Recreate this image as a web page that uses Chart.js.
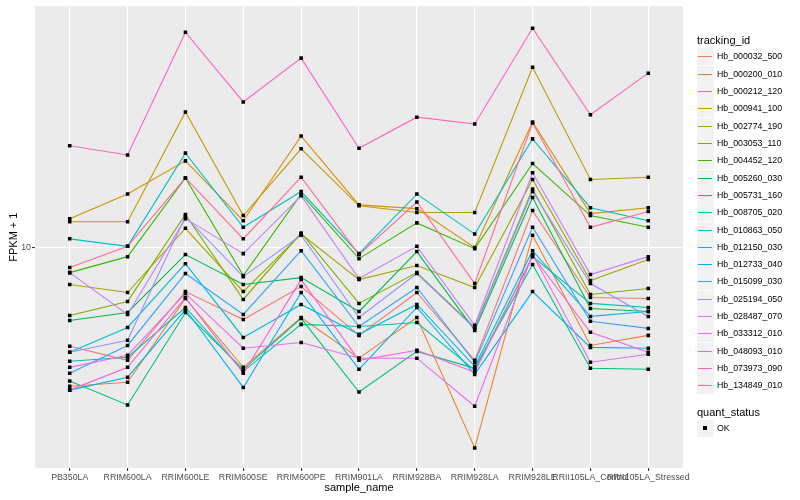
<!DOCTYPE html>
<html>
<head>
<meta charset="utf-8">
<script src="https://cdn.jsdelivr.net/npm/chart.js@4.4.1/dist/chart.umd.min.js"></script>
<style>
  body { margin: 0; background: #fff; font-family: "Liberation Sans", Arial, sans-serif; }
  #wrap { position: relative; width: 800px; height: 500px; }
  #legend { position: absolute; left: 697px; top: 0; width: 103px; height: 500px; }
  .ttl { position: absolute; left: 0; font-size: 11px; color: #000; line-height: 13px; white-space: nowrap; }
  .key { position: absolute; left: 0; width: 17px; height: 17px; background: #F2F2F2; }
  .key i { position: absolute; left: 1px; right: 2px; top: 8px; height: 1px; }
  .key b { position: absolute; left: 6px; top: 6px; width: 4px; height: 4px; background: #000; }
  .lab { position: absolute; left: 20px; font-size: 8.8px; color: #000; line-height: 10px; white-space: nowrap; }
</style>
</head>
<body>
<div id="wrap">
  <canvas id="chart" width="800" height="500"></canvas>
  <div id="legend"></div>
</div>
<script>
const sampleNames = ['PB350LA', 'RRIM600LA', 'RRIM600LE', 'RRIM600SE', 'RRIM600PE', 'RRIM901LA',
  'RRIM928BA', 'RRIM928LA', 'RRIM928LE', 'RRII105LA_Control', 'RRII105LA_Stressed'];

const trackingIds = ['Hb_000032_500', 'Hb_000200_010', 'Hb_000212_120', 'Hb_000941_100', 'Hb_002774_190',
  'Hb_003053_110', 'Hb_004452_120', 'Hb_005260_030', 'Hb_005731_160', 'Hb_008705_020',
  'Hb_010863_050', 'Hb_012150_030', 'Hb_012733_040', 'Hb_015099_030', 'Hb_025194_050',
  'Hb_028487_070', 'Hb_033312_010', 'Hb_048093_010', 'Hb_073973_090', 'Hb_134849_010'];

const lineColors = ['#F8766D', '#EA8331', '#D89000', '#C09B00', '#A3A500', '#7CAE00', '#39B600', '#00BB4E',
  '#00BF7D', '#00C1A3', '#00BFC4', '#00BAE0', '#00B0F6', '#35A2FF', '#9590FF', '#C77CFF',
  '#E76BF3', '#FA62DB', '#FF62BC', '#FF6C91'];

// FPKM + 1, one array per tracking_id, in sampleNames order
const Hb_000032_500 = [4.68, 4.20, 7.13, 5.75, 7.41, 5.09, 7.08, 4.20, 13.3, 6.81, 6.76];
const Hb_000200_010 = [3.44, 3.55, 6.76, 3.98, 5.84, 4.27, 5.84, 2.14, 11.0, 4.71, 5.09];
const Hb_000212_120 = [12.5, 15.1, 19.5, 12.3, 23.6, 13.9, 13.5, 10.0, 26.3, 13.0, 13.6];
const Hb_000941_100 = [12.2, 12.2, 28.4, 12.8, 21.4, 13.8, 13.1, 13.1, 40.1, 16.9, 17.2];
const Hb_002774_190 = [7.53, 7.08, 11.6, 7.13, 11.1, 7.82, 8.71, 7.36, 16.9, 7.76, 9.12];
const Hb_003053_110 = [5.93, 6.61, 12.9, 6.71, 11.2, 6.51, 8.25, 5.41, 15.7, 6.97, 7.30];
const Hb_004452_120 = [8.25, 9.33, 17.1, 8.07, 15.1, 9.19, 12.1, 9.92, 19.1, 12.8, 11.7];
const Hb_005260_030 = [5.71, 6.07, 9.48, 7.53, 7.94, 6.12, 9.70, 5.29, 14.7, 6.26, 6.12];
const Hb_005731_160 = [3.58, 2.98, 6.07, 3.92, 5.80, 3.29, 4.50, 3.95, 8.78, 3.95, 3.92];
const Hb_008705_020 = [4.17, 4.30, 6.31, 3.86, 5.54, 5.45, 5.62, 3.89, 9.33, 6.51, 6.31];
const Hb_010863_050 = [10.7, 10.1, 20.7, 11.7, 15.4, 9.55, 15.1, 11.1, 23.1, 13.6, 12.3];
const Hb_012150_030 = [4.47, 5.41, 8.84, 5.01, 6.46, 5.13, 6.46, 4.01, 9.77, 5.89, 6.12];
const Hb_012733_040 = [3.34, 3.69, 6.21, 3.41, 7.08, 3.92, 6.31, 3.77, 7.13, 4.64, 4.61];
const Hb_015099_030 = [3.80, 4.71, 8.19, 5.98, 9.77, 5.45, 7.36, 4.14, 11.7, 5.67, 5.37];
const Hb_025194_050 = [4.47, 4.90, 12.7, 8.00, 11.0, 5.84, 8.19, 5.37, 15.4, 7.59, 5.89];
const Hb_028487_070 = [8.25, 5.98, 12.5, 9.55, 14.9, 7.88, 10.1, 5.50, 17.8, 8.13, 9.33];
const Hb_033312_010 = [3.98, 4.37, 7.03, 4.61, 4.82, 4.27, 4.27, 2.95, 9.48, 4.14, 4.40];
const Hb_048093_010 = [3.34, 3.98, 6.81, 3.80, 7.82, 4.20, 4.54, 3.83, 9.40, 5.21, 4.47];
const Hb_073973_090 = [21.9, 20.4, 52.5, 30.7, 43.0, 21.5, 27.3, 25.9, 54.1, 27.8, 38.3];
const Hb_134849_010 = [8.58, 10.1, 17.1, 10.7, 17.2, 9.48, 14.2, 7.59, 26.1, 11.7, 13.2];

const fpkmSeries = [Hb_000032_500, Hb_000200_010, Hb_000212_120, Hb_000941_100, Hb_002774_190,
  Hb_003053_110, Hb_004452_120, Hb_005260_030, Hb_005731_160, Hb_008705_020,
  Hb_010863_050, Hb_012150_030, Hb_012733_040, Hb_015099_030, Hb_025194_050,
  Hb_028487_070, Hb_033312_010, Hb_048093_010, Hb_073973_090, Hb_134849_010];

const yTicks = [10];

const FONT = '"Liberation Sans", Arial, sans-serif';

const lineSets = fpkmSeries.map((vals, k) => ({
  type: 'line',
  label: trackingIds[k],
  data: vals.map((v, i) => ({ x: i, y: v })),
  borderColor: lineColors[k],
  borderWidth: 1.1,
  pointRadius: 0,
  tension: 0,
  fill: false,
  order: fpkmSeries.length - k
}));

const pointSet = {
  type: 'scatter',
  label: 'OK',
  data: fpkmSeries.flatMap(vals => vals.map((v, i) => ({ x: i, y: v }))),
  pointStyle: 'rect',
  pointRadius: 2.5,
  pointBorderWidth: 0,
  backgroundColor: '#000',
  order: 0
};

const panelBg = {
  id: 'panelBg',
  beforeDraw(chart) {
    const { ctx, chartArea: a } = chart;
    ctx.save();
    ctx.fillStyle = '#EBEBEB';
    ctx.fillRect(a.left, a.top, a.right - a.left, a.bottom - a.top);
    ctx.restore();
  }
};

new Chart(document.getElementById('chart'), {
  data: { datasets: [...lineSets, pointSet] },
  options: {
    responsive: false,
    animation: false,
    layout: { padding: { top: 5, right: 117, left: 0, bottom: 0 } },
    plugins: { legend: { display: false }, tooltip: { enabled: false } },
    scales: {
      x: {
        type: 'linear',
        min: -0.6,
        max: sampleNames.length - 1 + 0.6,
        afterBuildTicks: s => { s.ticks = sampleNames.map((n, i) => ({ value: i })); },
        afterFit: s => { s.height = 32; },
        ticks: {
          callback: v => sampleNames[v],
          autoSkip: false, maxRotation: 0, minRotation: 0,
          padding: 1,
          color: '#4D4D4D',
          font: { family: FONT, size: 8.8 }
        },
        grid: { color: '#FFFFFF', lineWidth: 1.1, tickColor: '#333333', tickLength: 3 },
        border: { display: false },
        title: { display: true, text: 'sample_name', color: '#000', font: { family: FONT, size: 11 }, padding: { top: 0, bottom: 5 } }
      },
      y: {
        type: 'logarithmic',
        min: 1.834,
        max: 64.09,
        afterBuildTicks: s => { s.ticks = yTicks.map(v => ({ value: v })); },
        afterFit: s => { s.width = 35; },
        ticks: {
          callback: v => String(v),
          padding: 1,
          color: '#4D4D4D',
          font: { family: FONT, size: 8.8 }
        },
        grid: { color: '#FFFFFF', lineWidth: 1.1, tickColor: '#333333', tickLength: 3 },
        border: { display: false },
        title: { display: true, text: 'FPKM + 1', color: '#000', font: { family: FONT, size: 11 }, padding: { top: 7, bottom: 0 } }
      }
    }
  },
  plugins: [panelBg]
});

// legend, ggplot style
const leg = document.getElementById('legend');
let html = '<div class="ttl" style="top:34px">tracking_id</div>';
trackingIds.forEach((id, k) => {
  const top = Math.round(56.7 + k * 17.33 - 8.5);
  html += `<div class="key" style="top:${top}px"><i style="background:${lineColors[k]}"></i></div>`;
  html += `<div class="lab" style="top:${top + 3}px">${id}</div>`;
});
html += '<div class="ttl" style="top:406px">quant_status</div>';
html += '<div class="key" style="top:420px"><b></b></div>';
html += '<div class="lab" style="top:423px">OK</div>';
leg.innerHTML = html;
</script>
</body>
</html>
